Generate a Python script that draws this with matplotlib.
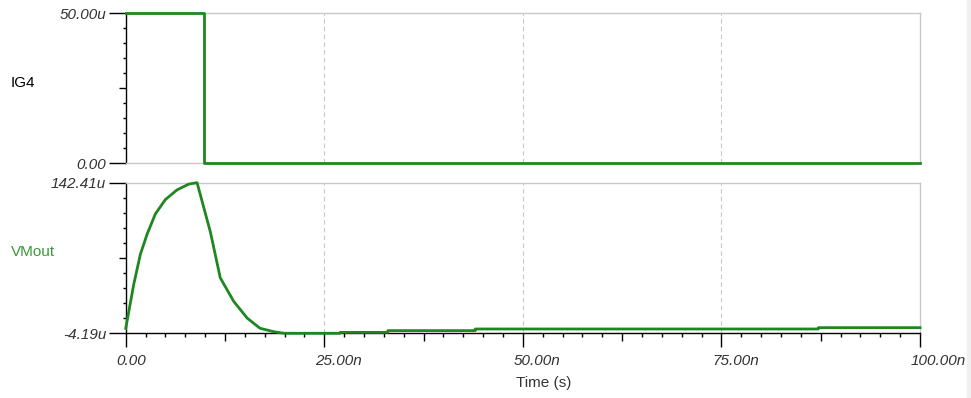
import numpy as np
import matplotlib
matplotlib.use("Agg")
import matplotlib.pyplot as plt
from matplotlib.transforms import ScaledTranslation

plt.rcParams['font.family'] = ['Liberation Sans', 'DejaVu Sans']

# IG4 source current (uA) vs time (ns)
ig4_t = [0.0, 9.8, 9.8, 100.0]
ig4_v = [50.0, 50.0, 0.0, 0.0]

# VMout (uV) vs time (ns)
vm_t = [0.0, 1.0, 1.84, 2.69, 3.73, 4.99, 6.46, 7.93, 8.98, 10.67, 11.9,
        13.6, 15.3, 16.9, 18.6, 19.4, 20.0, 27.0, 27.0, 33.0, 33.0, 44.0, 44.0,
        87.2, 87.2, 100.0]
vm_v = [0.6, 43.2, 72.7, 92.3, 112.0, 126.0, 135.4, 141.0, 142.41, 94.0, 49.8,
        26.8, 10.5, 0.7, -2.6, -3.6, -4.19, -4.19, -3.3, -3.3, -1.6,
        -1.6, 0.0, 0.0, 1.3, 1.3]

ig4_lim = (0.0, 50.0)
ig4_ticklabels = ['0.00', '50.00u']
vm_lim = (-4.19, 142.41)
vm_ticklabels = ['-4.19u', '142.41u']
time_ticks = [0, 25, 50, 75, 100]
time_ticklabels = ['0.00', '25.00n', '50.00n', '75.00n', '100.00n']

LINE = '#1e871e'
GRID = '#c8c8c8'
TXT = '#333333'
FS = 11

fig = plt.figure(figsize=(9.71, 3.98), dpi=100)
fig.patch.set_facecolor('white')
# light strip on the far right edge
fig.patches.append(plt.Rectangle((967 / 971, 0), 4 / 971, 1, transform=fig.transFigure,
                                 color='#f0f0f0', zorder=0))

ax1 = fig.add_axes([0.1295, 0.5897, 0.818, 0.3769])
ax2 = fig.add_axes([0.1295, 0.1626, 0.818, 0.3784])


def style_axis(ax, lim, labels, bottom_black):
    ax.set_xlim(0, 100)
    ax.set_ylim(*lim)
    for s in ['top', 'right']:
        ax.spines[s].set_color(GRID)
    ax.spines['left'].set_color('black')
    ax.spines['bottom'].set_color('black' if bottom_black else GRID)
    for s in ax.spines.values():
        s.set_linewidth(1.0)
    for x in time_ticks[1:-1]:
        ax.axvline(x, color=GRID, lw=0.8, ls=(0, (4, 3)), zorder=0)
    # y ticks: labelled ends, ten divisions, longer mark at the middle
    ax.set_yticks(list(lim))
    ax.set_yticklabels(labels, fontstyle='italic', fontsize=FS, color=TXT)
    minor = np.linspace(lim[0], lim[1], 11)[1:-1]
    ax.set_yticks(minor, minor=True)
    ax.tick_params(axis='y', which='major', length=12, width=1, pad=2)
    ax.tick_params(axis='y', which='minor', length=2, width=1)
    mt = ax.yaxis.get_minor_ticks()
    mt[4].tick1line.set_markersize(5)


style_axis(ax1, ig4_lim, ig4_ticklabels, False)
style_axis(ax2, vm_lim, vm_ticklabels, True)

ax1.set_xticks([])
ax1.plot(ig4_t, ig4_v, color=LINE, lw=2, clip_on=False, zorder=3)
ax2.plot(vm_t, vm_v, color=LINE, lw=2, clip_on=False, zorder=3)

# time axis: labelled every 25n, mid marks every 12.5n, minor every 2.5n
ax2.set_xticks(time_ticks)
ax2.set_xticklabels(time_ticklabels, fontstyle='italic', fontsize=FS, color=TXT)
xminor = [v for v in np.arange(0, 100.01, 2.5) if v % 25 != 0]
ax2.set_xticks(xminor, minor=True)
ax2.tick_params(axis='x', which='major', length=10, width=1, pad=5)
ax2.tick_params(axis='x', which='minor', length=3, width=1)
for tk, v in zip(ax2.xaxis.get_minor_ticks(), xminor):
    if v % 12.5 == 0:
        tk.tick1line.set_markersize(5.5)
shift = ScaledTranslation(-9 / 100, 0, fig.dpi_scale_trans)
for lab in ax2.get_xticklabels():
    lab.set_horizontalalignment('left')
    lab.set_transform(lab.get_transform() + shift)

fig.text(11 / 971, 1 - 83 / 398, 'IG4', fontsize=FS, color='black', va='center', ha='left')
fig.text(11 / 971, 1 - 252 / 398, 'VMout', fontsize=FS, color='#3a983a', va='center', ha='left')
fig.text(544 / 971, 1 - 383 / 398, 'Time (s)', fontsize=FS, color=TXT, va='center', ha='center')

fig.savefig('out.png', dpi=100)
